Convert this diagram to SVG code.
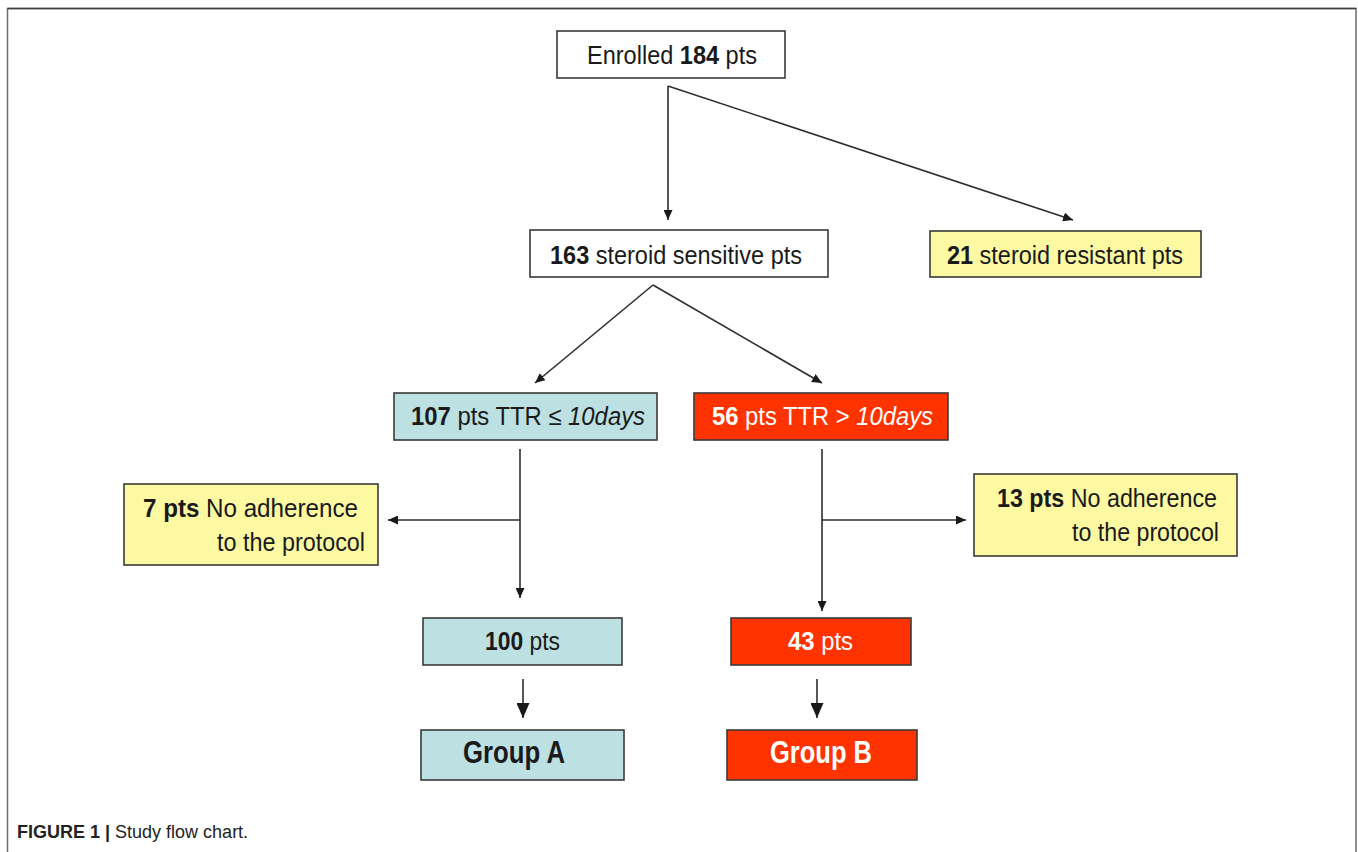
<svg xmlns="http://www.w3.org/2000/svg" width="1358" height="852" viewBox="0 0 1358 852">
<style>
.box{stroke:#3a3a3a;stroke-width:1.6}
.w{fill:#ffffff}.y{fill:#fcf9a2}.b{fill:#bde0e3}.r{fill:#ff3300}
text{font-family:"Liberation Sans",Arial,sans-serif;font-size:26px;fill:#1a1a1a}
.wt{fill:#ffffff}
.bd{font-weight:bold}
.it{font-style:italic}
.conn line,.conn path{stroke:#2e2e2e;stroke-width:1.6;fill:none}
</style>
<defs>
<marker id="ah" markerUnits="userSpaceOnUse" markerWidth="10" markerHeight="9" refX="10" refY="4.5" orient="auto"><path d="M0,0 L10,4.5 L0,9 z" fill="#1a1a1a"/></marker>
<marker id="ahb" markerUnits="userSpaceOnUse" markerWidth="15" markerHeight="13" refX="15" refY="6.5" orient="auto"><path d="M0,0 L15,6.5 L0,13 z" fill="#1a1a1a"/></marker>
</defs>
<rect x="0" y="0" width="1358" height="852" fill="#ffffff"/>
<path d="M7.5,852 V8.5 H1356 V852" fill="none" stroke="#6e6e6e" stroke-width="1.5"/>
<line x1="7.5" y1="8.5" x2="1356" y2="8.5" stroke="#3c3c3c" stroke-width="1.6"/>

<g class="conn">
<line x1="668" y1="86" x2="668" y2="220" marker-end="url(#ah)"/>
<line x1="668" y1="86" x2="1073" y2="220" marker-end="url(#ah)"/>
<line x1="653" y1="285" x2="535" y2="383" marker-end="url(#ah)"/>
<line x1="653" y1="285" x2="822" y2="383" marker-end="url(#ah)"/>
<line x1="520" y1="449" x2="520" y2="598" marker-end="url(#ah)"/>
<line x1="520" y1="520" x2="388" y2="520" marker-end="url(#ah)"/>
<line x1="822" y1="449" x2="822" y2="611" marker-end="url(#ah)"/>
<line x1="822" y1="520" x2="966" y2="520" marker-end="url(#ah)"/>
<line x1="523" y1="679" x2="523" y2="718" marker-end="url(#ahb)"/>
<line x1="817" y1="679" x2="817" y2="718" marker-end="url(#ahb)"/>
</g>

<g id="enrolled"><rect class="box w" x="557" y="31" width="228" height="47"/>
<text x="587" y="64" textLength="170" lengthAdjust="spacingAndGlyphs">Enrolled <tspan class="bd">184</tspan> pts</text></g>

<g id="sensitive"><rect class="box w" x="530" y="230" width="298" height="47"/>
<text x="550" y="264" textLength="252" lengthAdjust="spacingAndGlyphs"><tspan class="bd">163</tspan> steroid sensitive pts</text></g>

<g id="resistant"><rect class="box y" x="930" y="231" width="271" height="46"/>
<text x="947" y="264" textLength="236" lengthAdjust="spacingAndGlyphs"><tspan class="bd">21</tspan> steroid resistant pts</text></g>

<g id="ttr_le"><rect class="box b" x="394" y="393" width="263" height="47"/>
<text x="411" y="425" textLength="234" lengthAdjust="spacingAndGlyphs"><tspan class="bd">107</tspan> pts TTR ≤ <tspan class="it">10days</tspan></text></g>

<g id="ttr_gt"><rect class="box r" x="694" y="393" width="254" height="47"/>
<text class="wt" x="712" y="425" textLength="221" lengthAdjust="spacingAndGlyphs"><tspan class="bd">56</tspan> pts TTR &gt; <tspan class="it">10days</tspan></text></g>

<g id="excl_left"><rect class="box y" x="124" y="484" width="254" height="81"/>
<text x="143" y="517" textLength="215" lengthAdjust="spacingAndGlyphs"><tspan class="bd">7 pts</tspan><tspan dx="7">No adherence</tspan></text>
<text x="217" y="551" textLength="148" lengthAdjust="spacingAndGlyphs">to the protocol</text></g>

<g id="excl_right"><rect class="box y" x="974" y="474" width="263" height="82"/>
<text x="997" y="507" textLength="220" lengthAdjust="spacingAndGlyphs"><tspan class="bd">13 pts</tspan> No adherence</text>
<text x="1072" y="541" textLength="147" lengthAdjust="spacingAndGlyphs">to the protocol</text></g>

<g id="n100"><rect class="box b" x="423" y="618" width="199" height="47"/>
<text x="485" y="650" textLength="75" lengthAdjust="spacingAndGlyphs"><tspan class="bd">100</tspan> pts</text></g>

<g id="n43"><rect class="box r" x="731" y="618" width="180" height="47"/>
<text class="wt" x="788" y="650" textLength="65" lengthAdjust="spacingAndGlyphs"><tspan class="bd">43</tspan> pts</text></g>

<g id="groupA"><rect class="box b" x="421" y="730" width="203" height="50"/>
<text class="bd" x="463" y="763" style="font-size:31px" textLength="102" lengthAdjust="spacingAndGlyphs">Group A</text></g>

<g id="groupB"><rect class="box r" x="727" y="730" width="190" height="50"/>
<text class="bd wt" x="770" y="763" style="font-size:31px" textLength="102" lengthAdjust="spacingAndGlyphs">Group B</text></g>

<text x="17" y="838" style="font-size:18px;fill:#222"><tspan class="bd">FIGURE 1 |</tspan> Study flow chart.</text>
</svg>
